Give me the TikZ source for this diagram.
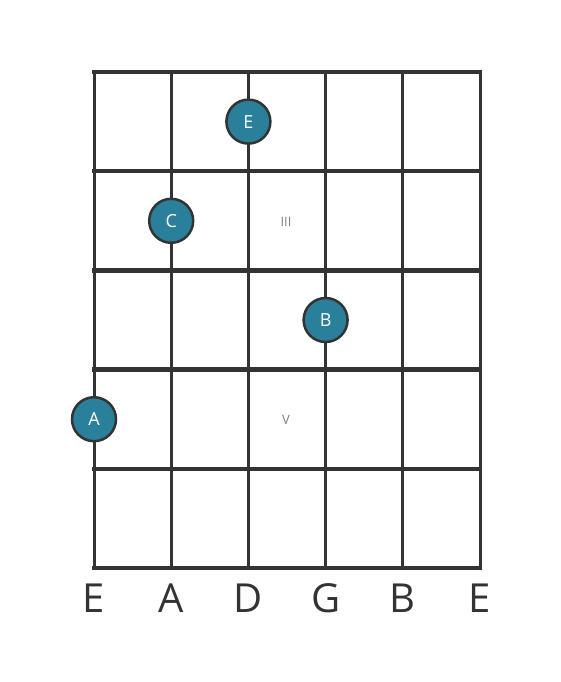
\documentclass[tikz,border=0pt]{standalone}
\usepackage{fontspec}
\setmainfont{Open Sans}
\usetikzlibrary{positioning}

\definecolor{gridgray}{RGB}{51,51,51}
\definecolor{dotteal}{RGB}{42,128,155}

\begin{document}
\begin{tikzpicture}[
        x=1pt, y=-1pt,
        fretline/.style={line width=4.5pt, gridgray},
        stringline/.style={line width=3pt, gridgray},
        notedot/.style={circle, draw=gridgray, line width=2.5pt, fill=dotteal, minimum size=44pt, inner sep=0pt, text=white, font=\fontsize{18}{18}\selectfont},
        stringname/.style={text=gridgray, font=\fontsize{40}{40}\selectfont},
        fretmark/.style={text=gray, font=\fontsize{13}{13}\selectfont}
    ]
        \useasboundingbox (0,0) rectangle (560,682);

        % Strings
        \foreach \sx in {94, 171.2, 248.4, 325.6, 402.8, 480} {
            \draw[stringline] (\sx,72) -- (\sx,568);
        }
        % Frets
        \foreach \fy in {72, 171.2, 270.4, 369.6, 468.8, 568} {
            \draw[fretline] (91.75,\fy) -- (482.25,\fy);
        }

        % Fret markers
        \node[fretmark] (m3) at (286,222) {III};
        \node[fretmark] (m5) at (286,420) {V};

        % Notes
        \node[notedot] (nE) at (248.4,121.6) {E};
        \node[notedot] (nC) at (171.2,220.8) {C};
        \node[notedot] (nB) at (325.6,320) {B};
        \node[notedot] (nA) at (94,419.2) {A};

        % String names
        \node[stringname] (s1) at (94,598) {E};
        \node[stringname] (s2) at (171.2,598) {A};
        \node[stringname] (s3) at (248.4,598) {D};
        \node[stringname] (s4) at (325.6,598) {G};
        \node[stringname] (s5) at (402.8,598) {B};
        \node[stringname] (s6) at (480,598) {E};

    \end{tikzpicture}
\end{document}
